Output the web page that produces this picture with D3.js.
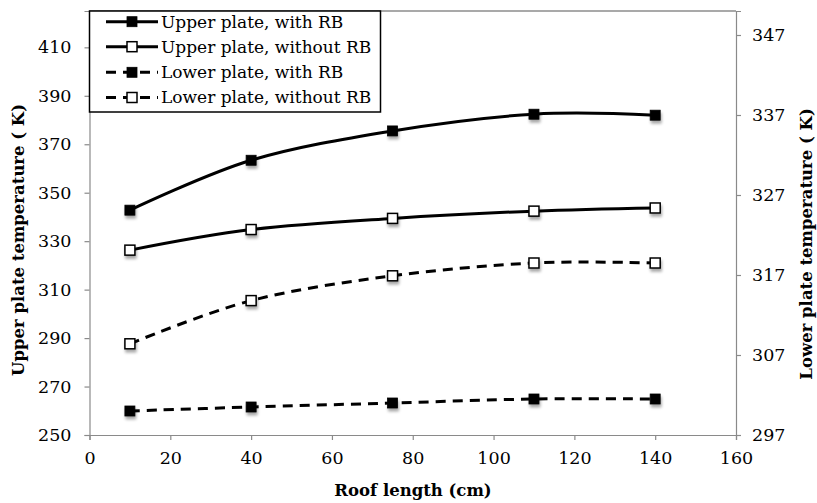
<!DOCTYPE html>
<html><head><meta charset="utf-8">
<script src="https://cdn.jsdelivr.net/npm/d3@7"></script>
<style>
html,body{margin:0;padding:0;background:#fff;}
svg{display:block;}
text{font-family:"DejaVu Serif",serif;fill:#000;}
</style></head>
<body>
<svg id="c" width="817" height="503"></svg>
<script>
const roofLength = [10, 40, 75, 110, 140];
const upperWithRB = [342.8, 363.4, 375.5, 382.4, 382.0];
const upperWithoutRB = [326.3, 334.8, 339.4, 342.4, 343.7];
const lowerWithRB = [300.0, 300.5, 301.0, 301.5, 301.5];
const lowerWithoutRB = [308.4, 313.8, 316.9, 318.5, 318.5];
const xTicks = [0, 20, 40, 60, 80, 100, 120, 140, 160];
const leftTicks = [250, 270, 290, 310, 330, 350, 370, 390, 410];
const rightTicks = [297, 307, 317, 327, 337, 347];
const seriesNames = ["Upper plate, with RB", "Upper plate, without RB", "Lower plate, with RB", "Lower plate, without RB"];

const svg = d3.select("#c");
const L = 89.5, R = 736, T = 11, B = 435;
const x = d3.scaleLinear().domain([0, 160]).range([L, R]);
const yL = d3.scaleLinear().domain([250, 425]).range([B, T]);
const yR = d3.scaleLinear().domain([297, 350]).range([B, T]);

const defs = svg.append("defs");
const f = defs.append("filter").attr("id", "sh").attr("x", "-50%").attr("y", "-50%").attr("width", "200%").attr("height", "220%");
f.append("feGaussianBlur").attr("in", "SourceAlpha").attr("stdDeviation", 1.6).attr("result", "b");
f.append("feOffset").attr("in", "b").attr("dx", 0.5).attr("dy", 2.5).attr("result", "o");
f.append("feComponentTransfer").attr("in", "o").attr("result", "o2")
  .append("feFuncA").attr("type", "linear").attr("slope", 0.35);
const m = f.append("feMerge");
m.append("feMergeNode").attr("in", "o2");
m.append("feMergeNode").attr("in", "SourceGraphic");

const axisColor = "#8a8a8a";
svg.append("line").attr("x1", L).attr("x2", R).attr("y1", T).attr("y2", T)
  .attr("stroke", "#555").attr("stroke-width", 1.2);

function styleAxis(g) {
  g.select(".domain").attr("stroke", axisColor).attr("stroke-width", 1.2);
  g.selectAll(".tick line").attr("stroke", axisColor).attr("stroke-width", 1.2);
  g.selectAll(".tick text").attr("font-family", "DejaVu Serif").attr("font-size", 17.5).attr("fill", "#000");
}
const gx = svg.append("g").attr("transform", `translate(0,${B})`)
  .call(d3.axisBottom(x).tickValues(xTicks).tickSizeOuter(0).tickSize(5).tickPadding(12));
styleAxis(gx);
const gl = svg.append("g").attr("transform", `translate(${L},0)`)
  .call(d3.axisLeft(yL).tickValues(leftTicks).tickSizeOuter(0).tickSize(5).tickPadding(13));
styleAxis(gl);
const gr = svg.append("g").attr("transform", `translate(${R},0)`)
  .call(d3.axisRight(yR).tickValues(rightTicks).tickSizeOuter(0).tickSize(5).tickPadding(11));
styleAxis(gr);

svg.append("text").attr("x", 413).attr("y", 496).attr("text-anchor", "middle")
  .attr("font-weight", "bold").attr("font-size", 16.5).text("Roof length (cm)");
svg.append("text").attr("transform", "translate(24,240) rotate(-90)").attr("text-anchor", "middle")
  .attr("font-weight", "bold").attr("font-size", 16.5).text("Upper plate temperature ( K)");
svg.append("text").attr("transform", "translate(812,244) rotate(-90)").attr("text-anchor", "middle")
  .attr("font-weight", "bold").attr("font-size", 16.5).text("Lower plate temperature ( K)");

const series = [
  {vals: upperWithRB, y: yL, dash: null, fill: "#000"},
  {vals: upperWithoutRB, y: yL, dash: null, fill: "#fff"},
  {vals: lowerWithRB, y: yR, dash: "10,7", fill: "#000"},
  {vals: lowerWithoutRB, y: yR, dash: "10,7", fill: "#fff"}
];
const ms = 10;
series.forEach(s => {
  const pts = roofLength.map((r, i) => [x(r), s.y(s.vals[i])]);
  const line = d3.line().curve(d3.curveCardinal.tension(0));
  svg.append("path").attr("d", line(pts)).attr("fill", "none").attr("stroke", "#000")
    .attr("stroke-width", 3).attr("stroke-dasharray", s.dash).attr("stroke-linecap", "butt");
});
series.forEach(s => {
  svg.append("g").attr("filter", "url(#sh)").selectAll("rect").data(roofLength).join("rect")
    .attr("x", (r) => x(r) - ms / 2).attr("y", (r, i) => s.y(s.vals[i]) - ms / 2)
    .attr("width", ms).attr("height", ms).attr("fill", s.fill)
    .attr("stroke", "#000").attr("stroke-width", s.fill === "#fff" ? 1.5 : 0.8);
});

const lg = svg.append("g");
lg.append("rect").attr("x", 89.5).attr("y", 11).attr("width", 291).attr("height", 101)
  .attr("fill", "#fff").attr("stroke", "#000").attr("stroke-width", 1.5);
const rowY = [21.7, 46.7, 72.3, 97.5];
series.forEach((s, i) => {
  const yy = rowY[i];
  lg.append("line").attr("x1", 106).attr("x2", 158).attr("y1", yy).attr("y2", yy)
    .attr("stroke", "#000").attr("stroke-width", 3).attr("stroke-dasharray", s.dash);
  lg.append("rect").attr("x", 132 - ms / 2).attr("y", yy - ms / 2).attr("width", ms).attr("height", ms)
    .attr("fill", s.fill).attr("stroke", "#000").attr("stroke-width", s.fill === "#fff" ? 1.5 : 0.8);
  lg.append("text").attr("x", 161).attr("y", yy).attr("dy", "0.35em")
    .attr("font-size", 17).text(seriesNames[i]);
});
</script>
</body></html>
